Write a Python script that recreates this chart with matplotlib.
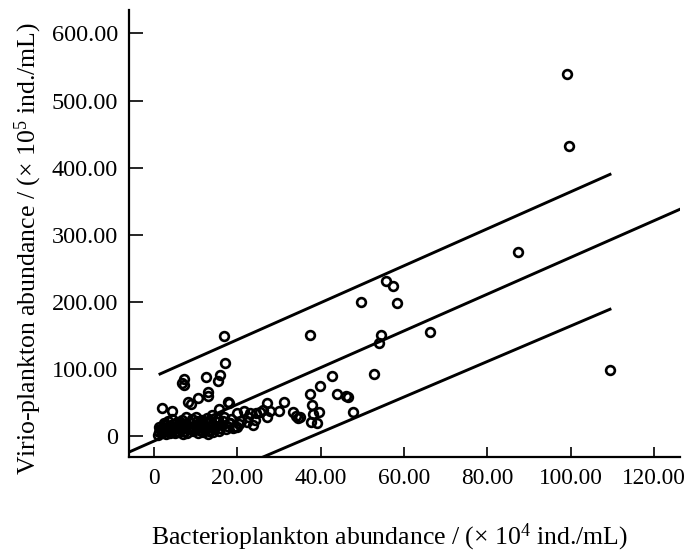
import matplotlib
matplotlib.use("Agg")
import matplotlib.pyplot as plt
import numpy as np
from matplotlib.ticker import FuncFormatter

plt.rcParams['font.family'] = ['Liberation Serif', 'DejaVu Serif']
plt.rcParams['mathtext.fontset'] = 'custom'
plt.rcParams['mathtext.rm'] = 'Liberation Serif'
plt.rcParams['mathtext.default'] = 'rm'

# Bacterioplankton abundance (x 10^4 ind./mL)
bact = [
    # dense cluster
    1.0, 1.2, 1.5, 1.3, 1.8, 2.0, 2.2, 2.5, 2.3, 2.8, 3.0, 3.2, 3.5, 3.3, 3.8, 4.0,
    4.2, 4.5, 4.4, 5.0, 5.2, 5.5, 5.8, 5.6, 6.0, 6.3, 6.5, 6.8, 6.6, 7.0, 7.2, 7.5,
    7.8, 7.6, 8.0, 8.3, 8.6, 8.9, 9.0, 9.3, 9.6, 9.9, 10.2, 10.0, 10.5, 10.8, 11.0,
    11.3, 11.5, 11.8, 12.0, 12.3, 12.6, 12.8, 13.0, 13.2, 13.5, 13.8, 13.6, 13.9,
    14.2, 14.5, 14.8, 15.0, 15.3, 15.6, 15.9, 16.2, 16.5, 16.8, 17.2, 17.6, 18.0,
    18.5, 19.0, 19.5, 20.3, 20.8, 22.5,
    # mid cluster
    20.0, 21.7, 22.2, 24.5, 26.2, 18.2, 19.8,
    27.0, 31.1, 27.9, 29.9, 25.4, 33.4, 34.1, 34.6, 27.0, 23.0, 24.2, 23.8,
    # upper-left scattered
    16.9, 17.1, 12.4, 15.8, 15.4, 7.3, 6.8, 7.1, 13.0, 13.0, 10.6, 8.2, 8.8,
    17.8, 18.1, 1.9, 4.3, 15.7,
    # right part
    37.4, 55.6, 57.4, 49.7, 58.2, 54.5, 53.9, 66.2, 42.6, 52.7, 39.8, 37.4, 44.0,
    46.0, 46.6, 37.8, 39.7, 38.2, 47.8, 37.7, 39.0, 35.0,
    87.3, 99.0, 99.6, 109.3,
]
# Virio-plankton abundance (x 10^5 ind./mL)
virio = [
    2, 6, 10, 14, 4, 8, 12, 16, 20, 3, 7, 11, 15, 22, 5, 9,
    13, 18, 26, 4, 8, 12, 16, 21, 6, 10, 14, 19, 24, 3, 8, 12,
    17, 28, 5, 10, 14, 20, 25, 7, 12, 16, 22, 29, 4, 9, 13,
    18, 24, 6, 11, 15, 20, 27, 3, 8, 13, 17, 23, 31,
    6, 10, 15, 21, 26, 8, 12, 17, 22, 28, 10, 15, 20,
    25, 12, 14, 18, 22, 28,
    34.7, 37.3, 21.3, 33.8, 38.7, 18.9, 13.9,
    48.7, 50.2, 37.7, 37.7, 36.2, 35.3, 29.8, 27.3, 28.8, 33.8, 23.8, 16.4,
    149, 109, 88.4, 91, 82.4, 85.4, 79.4, 76, 66, 59.6, 56, 51, 47.2,
    51, 48.7, 41.3, 37.3, 39.8,
    151, 231, 223.5, 199, 198.7, 150, 138, 155, 89.4, 92.4, 75, 62, 62.6,
    59.6, 57.7, 46, 35.3, 32.8, 35.3, 21.3, 18.9, 28.8,
    274, 539, 432, 99,
]

# Regression line and prediction bands (intercept, slope)
fit_line = (-7.6, 2.738)
upper_band = (88.4, 2.756)
lower_band = (-100.6, 2.646)
band_x_range = (1.44, 109.4)
x_ticks = [0, 20, 40, 60, 80, 100, 120]
y_ticks = [0, 100, 200, 300, 400, 500, 600]

fig = plt.figure(figsize=(6.85, 5.55), dpi=100)
W, H = 685, 555
ax = fig.add_axes([129 / W, 1 - 456.5 / H, (680 - 129) / W, (456.5 - 10) / H])

ax.set_xlim(-6.0, 126.2)
ax.set_ylim(-30.6, 634.9)

# lines
xl = np.array(ax.get_xlim())
ax.plot(xl, fit_line[0] + fit_line[1] * xl, color='black', lw=2.1, zorder=2)
xb = np.array(band_x_range)
ax.plot(xb, upper_band[0] + upper_band[1] * xb, color='black', lw=2.1, zorder=2)
ax.plot(xb, lower_band[0] + lower_band[1] * xb, color='black', lw=2.1, zorder=2)

ax.plot(bact, virio, linestyle='none', marker='o', ms=6.3, mfc='none',
        mec='black', mew=1.9, zorder=3)

for s in ['top', 'right']:
    ax.spines[s].set_visible(False)
for s in ['left', 'bottom']:
    ax.spines[s].set_linewidth(1.6)

fmt = FuncFormatter(lambda v, p: '0' if v == 0 else f'{v:.2f}')
ax.set_xticks(x_ticks)
ax.set_yticks(y_ticks)
ax.xaxis.set_major_formatter(fmt)
ax.yaxis.set_major_formatter(fmt)
ax.tick_params(axis='x', direction='in', length=7.5, width=1.2, pad=8.5, labelsize=16.8)
ax.tick_params(axis='y', direction='in', length=10, width=1.2, pad=8, labelsize=17.5)

fig.text(390 / W, 1 - 537.5 / H, 'Bacterioplankton abundance / (× 10$^{4}$ ind./mL)',
         ha='center', va='center', fontsize=18.5)
fig.text(28 / W, 1 - 249 / H, 'Virio-plankton abundance / (× 10$^{5}$ ind./mL)',
         ha='center', va='center', rotation=90, fontsize=18.5)

fig.savefig('out.png', dpi=100)
